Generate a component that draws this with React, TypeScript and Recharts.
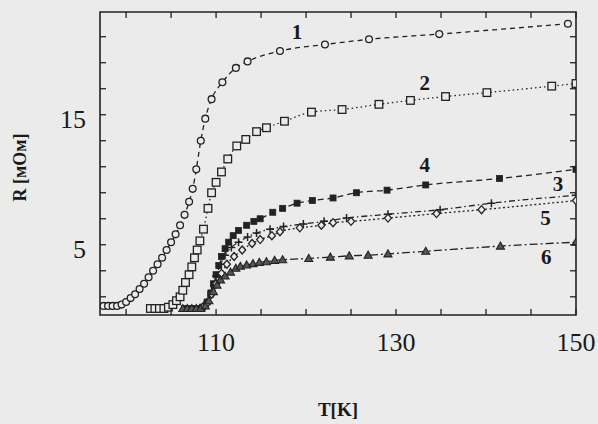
import { LineChart, Line, XAxis, YAxis, ReferenceDot, ReferenceArea, Label } from 'recharts'

// curve 1 - open circles
const t1 = [97.5, 98, 98.5, 99, 99.5, 100, 100.5, 101, 101.5, 102, 102.5, 103, 103.5, 104, 104.5, 105, 105.5, 106, 106.5, 107, 107.4, 107.8, 108.3, 108.8, 109.5, 110.7, 112.2, 113.5, 117.1, 122.1, 127, 134.8, 149.1]
const r1 = [0.3, 0.3, 0.3, 0.3, 0.4, 0.6, 0.9, 1.2, 1.6, 2.0, 2.5, 3.0, 3.5, 4.0, 4.6, 5.2, 5.8, 6.5, 7.3, 8.3, 9.3, 10.8, 13.0, 14.7, 16.2, 17.5, 18.6, 19.1, 19.9, 20.4, 20.8, 21.2, 22.0]

// curve 2 - open squares
const t2 = [102.7, 103.2, 103.7, 104.2, 104.7, 105.2, 105.6, 106, 106.3, 106.6, 107, 107.3, 107.6, 107.9, 108.2, 108.6, 109.1, 109.5, 110, 110.6, 111.3, 112.3, 113.3, 114.5, 115.6, 117.6, 120.6, 124, 128.1, 131.6, 135.5, 140.1, 147.3, 150]
const r2 = [0.1, 0.1, 0.1, 0.1, 0.2, 0.4, 0.7, 1.0, 1.5, 2.1, 2.7, 3.3, 4.0, 4.6, 5.3, 6.2, 7.8, 9.0, 9.8, 10.6, 11.6, 12.6, 13.1, 13.7, 14.0, 14.5, 15.2, 15.4, 15.8, 16.1, 16.4, 16.7, 17.2, 17.4]

// curve 3 - plus
const t3 = [108.5, 109, 109.5, 110, 110.5, 111, 111.7, 112.5, 113.5, 114.5, 116, 117.5, 119.7, 122, 124.5, 129.1, 134.9, 140.6, 150]
const r3 = [0.2, 0.6, 1.5, 2.6, 3.5, 4.2, 4.8, 5.2, 5.6, 5.9, 6.2, 6.4, 6.6, 6.8, 7.05, 7.35, 7.7, 8.2, 8.8]

// curve 4 - filled squares
const t4 = [106.5, 107, 107.5, 108, 108.5, 109, 109.4, 109.7, 110, 110.3, 110.6, 111, 111.4, 111.9, 112.5, 113.4, 114.2, 114.9, 116.3, 117.4, 119, 120.7, 123, 125.6, 129, 133.3, 141.5, 150]
const r4 = [0.1, 0.1, 0.1, 0.1, 0.2, 0.6, 1.2, 2.0, 2.7, 3.4, 4.1, 4.7, 5.2, 5.7, 6.1, 6.5, 6.8, 7.0, 7.5, 7.8, 8.2, 8.4, 8.6, 9.0, 9.2, 9.6, 10.1, 10.8]

// curve 5 - open diamonds
const t5 = [108.5, 109, 109.5, 110, 110.6, 111.2, 112, 112.9, 114, 114.9, 116.2, 117.1, 119.3, 121.7, 123, 125, 129.1, 134.5, 139.5, 150]
const r5 = [0.2, 0.5, 1.2, 2.0, 2.8, 3.5, 4.1, 4.6, 5.1, 5.4, 5.7, 6.0, 6.3, 6.5, 6.7, 6.8, 7.05, 7.4, 7.7, 8.4]

// curve 6 - triangles
const t6 = [106.3, 106.8, 107.3, 107.8, 108.3, 108.8, 109.2, 109.7, 110.1, 110.5, 111, 111.6, 112.2, 112.7, 113.4, 114.1, 114.8, 115.6, 116.5, 117.4, 120.3, 122.7, 124.8, 126.9, 129.1, 133.3, 141.6, 150]
const r6 = [0.1, 0.1, 0.1, 0.1, 0.1, 0.3, 0.7, 1.4, 1.9, 2.3, 2.6, 2.9, 3.2, 3.35, 3.45, 3.55, 3.65, 3.7, 3.8, 3.85, 3.95, 4.05, 4.15, 4.2, 4.3, 4.5, 4.9, 5.2]

const xTicks = [100, 105, 110, 115, 120, 125, 130, 135, 140, 145, 150]
const xLabels = [110, 130, 150]
const yTicks = [1, 3, 5, 7, 9, 11, 13, 15, 17, 19, 21]
const yLabels = [5, 15]

// curve number annotations
const noteT = [119, 133.2, 148, 133.2, 146.6, 146.7]
const noteR = [21.4, 17.5, 9.7, 11.15, 7.1, 4.1]
const noteText = ['1', '2', '3', '4', '5', '6']

const toRows = (t: number[], r: number[]) => t.map((x, i) => ({ t: x, r: r[i] }))

const INK = '#222'
const BG = '#ebebeb'
const W = 598
const H = 424
const M = { top: 12, right: 22, left: 0, bottom: 4 }
const X_MARGIN = 25
const Y_MARGIN = 20
const TICK = 6

const Circle = (p: any) => (
  <circle key={`c${p.index}`} cx={p.cx} cy={p.cy} r={3.4} fill={BG} stroke={INK} strokeWidth={1.3} />
)
const Square = (p: any) => (
  <rect key={`s${p.index}`} x={p.cx - 3.8} y={p.cy - 3.8} width={7.6} height={7.6} fill={BG} stroke={INK} strokeWidth={1.3} />
)
const FilledSquare = (p: any) => (
  <rect key={`f${p.index}`} x={p.cx - 3} y={p.cy - 3} width={6} height={6} fill={INK} stroke={INK} strokeWidth={0.8} />
)
const Plus = (p: any) => (
  <path key={`p${p.index}`} d={`M${p.cx - 4},${p.cy}h8M${p.cx},${p.cy - 4}v8`} stroke={INK} strokeWidth={1.5} fill="none" />
)
const Diamond = (p: any) => (
  <path key={`d${p.index}`} d={`M${p.cx},${p.cy - 4}L${p.cx + 3.5},${p.cy}L${p.cx},${p.cy + 4}L${p.cx - 3.5},${p.cy}Z`} fill={BG} stroke={INK} strokeWidth={1.3} />
)
const Triangle = (p: any) => (
  <path key={`t${p.index}`} d={`M${p.cx},${p.cy - 4}L${p.cx + 4},${p.cy + 3}L${p.cx - 4},${p.cy + 3}Z`} fill="#555" stroke={INK} strokeWidth={1.1} />
)

const series = [
  { id: 'c1', data: toRows(t1, r1), dash: '5 4', dot: Circle },
  { id: 'c2', data: toRows(t2, r2), dash: '1.5 3', dot: Square },
  { id: 'c4', data: toRows(t4, r4), dash: '6 4', dot: FilledSquare },
  { id: 'c3', data: toRows(t3, r3), dash: '6 3 1.5 3', dot: Plus },
  { id: 'c5', data: toRows(t5, r5), dash: '2 2.5', dot: Diamond },
  { id: 'c6', data: toRows(t6, r6), dash: '8 3 2 3', dot: Triangle },
]

const textStyle = { fontFamily: 'Liberation Serif', fontSize: 26, fill: '#1a1a1a' }

// bottom axis tick: inward tick at bottom and top of the frame, label below
const XTick = ({ x, y, payload }: any) => {
  const axisY = y - X_MARGIN
  const top = M.top
  const v = payload.value
  return (
    <g>
      <line x1={x} x2={x} y1={axisY} y2={axisY - TICK} stroke={INK} strokeWidth={1.3} />
      <line x1={x} x2={x} y1={top} y2={top + TICK} stroke={INK} strokeWidth={1.3} />
      {xLabels.includes(v) && (
        <text x={x} y={axisY + 36} textAnchor="middle" style={textStyle}>{v}</text>
      )}
    </g>
  )
}

// left axis tick: inward tick at left and right of the frame, label left
const YTick = ({ x, y, payload }: any) => {
  const axisX = x + Y_MARGIN
  const right = W - M.right
  const v = payload.value
  return (
    <g>
      <line x1={axisX} x2={axisX + TICK} y1={y} y2={y} stroke={INK} strokeWidth={1.3} />
      <line x1={right} x2={right - TICK} y1={y} y2={y} stroke={INK} strokeWidth={1.3} />
      {yLabels.includes(v) && (
        <text x={axisX - 14} y={y + 13} textAnchor="end" style={textStyle}>{v}</text>
      )}
    </g>
  )
}

const YTitle = ({ viewBox }: any) => {
  const cx = 22
  const cy = viewBox.y + viewBox.height / 2 + 4
  return (
    <text x={cx} y={cy} transform={`rotate(-90, ${cx}, ${cy})`} textAnchor="middle" dominantBaseline="middle"
      style={{ fontFamily: 'Liberation Serif', fontSize: 18, fontWeight: 'bold', fill: '#1a1a1a' }}>
      R [мОм]
    </text>
  )
}

export default function App() {
  return (
    <div style={{ position: 'absolute', left: 0, top: 0, width: W, height: H, background: BG }}>
      <LineChart width={W} height={H} margin={M}>
        <XAxis
          xAxisId="b"
          dataKey="t"
          type="number"
          domain={[97.1, 150]}
          allowDataOverflow
          ticks={xTicks}
          height={105}
          tickSize={0}
          tickMargin={X_MARGIN}
          tick={<XTick />}
          axisLine={false}
          tickLine={false}
        >
          <Label value="T[K]" position="insideBottom" offset={4}
            style={{ fontFamily: 'Liberation Serif', fontSize: 19, fontWeight: 'bold', fill: '#1a1a1a' }} />
        </XAxis>
        <YAxis
          yAxisId="l"
          type="number"
          domain={[-0.4, 22.9]}
          allowDataOverflow
          ticks={yTicks}
          width={100}
          tickSize={0}
          tickMargin={Y_MARGIN}
          tick={<YTick />}
          axisLine={false}
          tickLine={false}
        >
          <Label content={<YTitle />} />
        </YAxis>
        <ReferenceArea
          xAxisId="b"
          yAxisId="l"
          x1={97.1}
          x2={150}
          y1={-0.4}
          y2={22.9}
          fill="none"
          stroke={INK}
          strokeWidth={1.6}
          fillOpacity={0}
          ifOverflow="visible"
        />
        {series.map(s => (
          <Line
            key={s.id}
            xAxisId="b"
            yAxisId="l"
            data={s.data}
            dataKey="r"
            type="monotone"
            stroke={INK}
            strokeWidth={1.3}
            strokeDasharray={s.dash}
            dot={s.dot}
            activeDot={false}
            isAnimationActive={false}
          />
        ))}
        {noteText.map((txt, i) => (
          <ReferenceDot
            key={txt}
            xAxisId="b"
            yAxisId="l"
            x={noteT[i]}
            y={noteR[i]}
            r={0}
            stroke="none"
            label={{ value: txt, position: 'center', style: { fontFamily: 'Liberation Serif', fontSize: 21, fontWeight: 'bold', fill: '#1a1a1a' } }}
          />
        ))}
      </LineChart>
    </div>
  )
}
